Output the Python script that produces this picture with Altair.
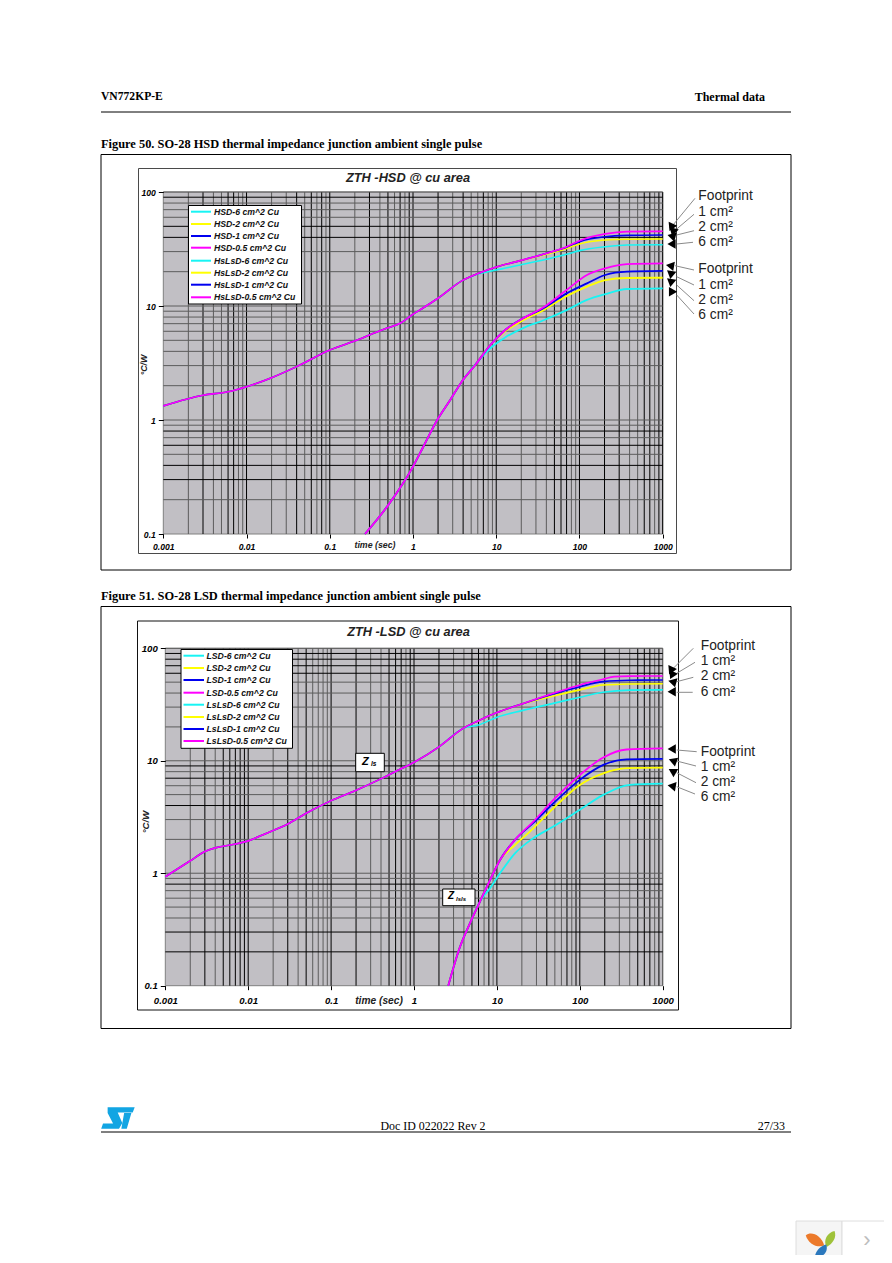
import altair as alt
import pandas as pd

# ---------- curve data ----------
# Figure 50, upper family (HSD)
hsd_t = [0.001, 0.003, 0.006, 0.01, 0.02, 0.04, 0.1, 0.23, 0.3, 0.48, 0.7, 1, 1.2, 2, 3.85]
hsd_z = [1.33, 1.65, 1.77, 1.96, 2.35, 2.94, 4.11, 5.13, 5.57, 6.37, 7.05, 8.46, 9.2, 11.7, 16.6]
hsd6_t = [5.6, 10, 19.4, 40, 70, 100, 204, 372, 1000]
hsd6_z = [18.7, 20.7, 22.9, 25.7, 28.4, 30.6, 33.1, 34.3, 34.5]
hsd2_t = [6.4, 10, 19.4, 40, 70, 100, 204, 372, 1000]
hsd2_z = [19.6, 22, 25, 28.4, 32, 35, 37.9, 38.5, 38.7]
hsd1_t = [6.4, 10, 19.4, 40.5, 70, 100, 204, 372, 1000]
hsd1_z = [19.6, 22, 25, 29, 32.8, 36.7, 40.5, 41.6, 42]
hsd05_t = [6.4, 10, 19.4, 40.5, 70, 100, 204, 372, 1000]
hsd05_z = [19.6, 22, 25, 29, 33.1, 37.4, 42.9, 44.9, 45.2]
# Figure 50, lower family (HsLsD)
hsls_t = [0.265, 0.506, 1, 1.33, 2, 2.8, 3.85]
hsls_z = [0.1, 0.18, 0.39, 0.583, 1.03, 1.5, 2.17]
hsls6_t = [6, 8.5, 12.8, 21, 37, 70, 123, 204, 372, 1000]
hsls6_z = [3.25, 4.26, 5.3, 6.4, 7.5, 9.2, 11.3, 12.7, 14.1, 14.3]
hsls2_t = [5.6, 8.5, 12.8, 21, 37, 70, 123, 204, 372, 1000]
hsls2_z = [3.04, 4.55, 6.0, 7.5, 9.2, 12.2, 14.8, 16.9, 17.6, 17.7]
hsls1_t = [5.6, 8.5, 12.8, 21, 37, 70, 123, 204, 372, 1000]
hsls1_z = [3.04, 4.55, 6.16, 7.8, 9.55, 12.9, 15.8, 18.7, 20, 20.3]
hsls05_t = [5.6, 8.5, 12.8, 21, 37, 70, 123, 204, 372, 1000]
hsls05_z = [3.04, 4.55, 6.16, 7.8, 9.73, 13.8, 18.7, 21.4, 23.3, 23.7]
# Figure 51, upper family (LSD)
lsd_t = [0.001, 0.002, 0.003, 0.004, 0.006, 0.01, 0.0167, 0.03, 0.05, 0.1, 0.204, 0.427, 0.68, 1.03, 2, 3.9]
lsd_z = [0.93, 1.29, 1.56, 1.68, 1.78, 1.94, 2.27, 2.74, 3.41, 4.42, 5.5, 7.08, 8.4, 9.8, 13.3, 19.4]
lsd6_t = [6, 10, 20, 48, 100, 190, 400, 1000]
lsd6_z = [20.8, 24.4, 27.9, 32.4, 36.7, 40.6, 42.5, 42.7]
lsd2_t = [6, 10, 20, 48, 100, 190, 400, 1000]
lsd2_z = [22.7, 26.8, 32, 37.7, 42.7, 47.2, 48.2, 48.4]
lsd1_t = [6, 10, 20, 48, 100, 190, 400, 1000]
lsd1_z = [22.7, 26.8, 32, 39.3, 45.6, 50.5, 52, 52.2]
lsd05_t = [6, 10, 20, 48, 100, 190, 260, 400, 1000]
lsd05_z = [22.7, 26.8, 32, 39.8, 47.2, 53, 56, 56.6, 56.7]
# Figure 51, lower family (LsLsD)
lsls_t = [2.59, 3.6, 4.74, 6.25]
lsls_z = [0.1, 0.223, 0.36, 0.56]
lsls6_t = [8.26, 10.9, 16.5, 27.5, 48, 100, 192, 400, 1000]
lsls6_z = [0.736, 1.0, 1.5, 2.05, 2.6, 3.66, 4.97, 6.1, 6.25]
lsls2_t = [8.26, 10.9, 16.5, 27.5, 48, 100, 192, 367, 1000]
lsls2_z = [0.87, 1.31, 1.78, 2.51, 3.78, 6.1, 7.74, 8.6, 8.69]
lsls1_t = [8.26, 10.9, 16.5, 27.5, 48, 100, 192, 367, 1000]
lsls1_z = [0.87, 1.31, 1.98, 2.8, 4.19, 6.76, 9.18, 10.3, 10.4]
lsls05_t = [8.26, 10.9, 16.5, 27.5, 48, 100, 192, 367, 1000]
lsls05_z = [0.87, 1.31, 1.98, 2.88, 4.48, 7.48, 10.7, 12.6, 12.9]

legend1 = ["HSD-6 cm^2 Cu", "HSD-2 cm^2 Cu", "HSD-1 cm^2 Cu", "HSD-0.5 cm^2 Cu",
           "HsLsD-6 cm^2 Cu", "HsLsD-2 cm^2 Cu", "HsLsD-1 cm^2 Cu", "HsLsD-0.5 cm^2 Cu"]
legend2 = ["LSD-6 cm^2 Cu", "LSD-2 cm^2 Cu", "LSD-1 cm^2 Cu", "LSD-0.5 cm^2 Cu",
           "LsLsD-6 cm^2 Cu", "LsLsD-2 cm^2 Cu", "LsLsD-1 cm^2 Cu", "LsLsD-0.5 cm^2 Cu"]
colors = ["#18f4f4", "#ffff00", "#0000f0", "#ff00ff"]
area_labels = ["Footprint", "1 cm²", "2 cm²", "6 cm²"]
x_ticks = [0.001, 0.01, 0.1, 1, 10, 100, 1000]
y_ticks = [0.1, 1, 10, 100]

# which multiples in each decade are drawn as dark grid lines
v1_dark = [[3, 6, 7, 10], [4, 6, 8, 10], [3, 5, 7, 9, 10], [2, 4, 7, 10], [5, 6, 7, 10], [2, 3, 6, 7, 9, 10]]
h1_dark = [[3, 4, 6, 8], [], [4, 5, 9]]
v2_dark = [[3, 5, 6, 7, 8, 9, 10], [3, 5, 10], [2, 5, 6, 7, 9, 10], [2, 5, 6, 8, 10], [4, 7, 9, 10], [2, 5, 6, 7, 9]]
h2_dark = [[2, 3, 8], [4, 7, 9], [6, 7, 8, 9]]

PAGE_W, PAGE_H = 876, 1247
base = pd.DataFrame({"a": [1]})


def P(v):
    return alt.value(v - 8)


def text(s, x, y, size=9, font="Liberation Sans", weight="normal", style="normal",
         align="left", color="#000000", angle=0):
    return alt.Chart(base).mark_text(
        text=s, fontSize=size, font=font, fontWeight=weight, fontStyle=style,
        align=align, baseline="middle", color=color, angle=angle
    ).encode(x=P(x), y=P(y))


def box(x0, x1, y0, y1, fill="transparent", stroke="#000000", sw=1.0):
    return alt.Chart(base).mark_rect(fill=fill, stroke=stroke, strokeWidth=sw).encode(
        x=P(x0), x2=P(x1), y=P(y0), y2=P(y1))


def seg(x0, y0, x1, y1, color="#000000", sw=1.0):
    return alt.Chart(base).mark_rule(color=color, strokeWidth=sw).encode(
        x=P(x0), y=P(y0), x2=P(x1), y2=P(y1))


def tri(x, y, angle, size=90):
    return alt.Chart(base).mark_point(shape="triangle-up", filled=True, color="#000000",
                                      size=size, angle=angle, opacity=1).encode(x=P(x), y=P(y))


def grid_rows(dark, first_decade, lo, hi):
    rows = []
    for i, d in enumerate(dark):
        step = 10.0 ** (first_decade + i)
        for m in range(2, 11):
            rows.append({"v": m * step, "lo": lo, "hi": hi,
                         "s": "#000000" if m in d else "#5c5c5c", "k": 1 if m in d else 0})
    return pd.DataFrame(sorted(rows, key=lambda r: r["k"]))


def plot_layers(sx, sy, vdark, hdark, x_off, y_off, label_pad, label_size, families):
    out = []
    vt = grid_rows(vdark, -3, 0.1, 100)
    out.append(alt.Chart(vt).mark_rule(strokeWidth=1).encode(
        x=alt.X("v:Q", scale=sx, axis=alt.Axis(
            values=x_ticks, format="~g", orient="bottom", offset=x_off, title=None, grid=False,
            domain=False, tickSize=4, tickColor="#000000", labelPadding=label_pad, labelFontSize=label_size,
            labelFont="Liberation Sans", labelFontStyle="italic", labelFontWeight="bold",
            labelColor="#000000", labelOverlap=False, labelFlush=False, labelBound=False, zindex=1)),
        y=alt.Y("lo:Q", scale=sy, axis=None),
        y2="hi:Q",
        stroke=alt.Stroke("s:N", scale=None)))
    ht = grid_rows(hdark, -1, 0.001, 1000)
    out.append(alt.Chart(ht).mark_rule(strokeWidth=1).encode(
        y=alt.Y("v:Q", scale=sy, axis=alt.Axis(
            values=y_ticks, format="~g", orient="left", offset=y_off, title=None, grid=False,
            domain=False, tickSize=5, tickColor="#000000", labelPadding=3, labelFontSize=label_size,
            labelFont="Liberation Sans", labelFontStyle="italic", labelFontWeight="bold",
            labelColor="#000000", labelOverlap=False, labelFlush=False, labelBound=False, zindex=1)),
        x=alt.X("lo:Q", scale=sx, axis=None),
        x2="hi:Q",
        stroke=alt.Stroke("s:N", scale=None)))
    for common_t, common_z, tails, width in families:
        for (tt, zz), col in zip(tails, colors):
            df = pd.DataFrame({"t": common_t + tt, "z": common_z + zz})
            out.append(alt.Chart(df).mark_line(color=col, strokeWidth=width, clip=True,
                                               interpolate="monotone").encode(
                x=alt.X("t:Q", scale=sx, axis=None, sort=None),
                y=alt.Y("z:Q", scale=sy, axis=None)))
    return out


def legend_layers(x0, x1, y0, y1, names, ys, sw_x0, sw_x1, tx):
    out = [box(x0, x1, y0, y1, fill="#ffffff", stroke="#000000", sw=1)]
    for i, (n, y) in enumerate(zip(names, ys)):
        out.append(seg(sw_x0, y, sw_x1, y, color=colors[i % 4], sw=2))
        out.append(text(n, tx, y, size=8.7, weight="bold", style="italic", color="#111111"))
    return out


sx1 = alt.Scale(type="log", domain=[0.001, 1000], range=[155.3, 654.7], nice=False)
sy1 = alt.Scale(type="log", domain=[0.1, 100], range=[526, 184], nice=False)
sx2 = alt.Scale(type="log", domain=[0.001, 1000], range=[157.3, 654.7], nice=False)
sy2 = alt.Scale(type="log", domain=[0.1, 100], range=[977.7, 640.3], nice=False)

SERIF = "Liberation Serif"
layers = []

st_logo = ("M-0.61 -0.65L1.03 -0.65L0.91 -0.34L0 -0.34L0.28 0.3L0.08 0.65L-1 0.65L-0.89 0.34"
           "L-0.28 0.34L-0.61 -0.3ZM0.39 -0.3L0.83 -0.3L0.55 0.65L0.22 0.65Z")

# page furniture
layers += [
    text("VN772KP-E", 101, 97, size=11.6, font=SERIF, weight="bold"),
    text("Thermal data", 765, 97, size=12, font=SERIF, weight="bold", align="right"),
    seg(101, 112, 791, 112),
    text("Figure 50. SO-28 HSD thermal impedance junction ambient single pulse", 101, 144,
         size=12.4, font=SERIF, weight="bold"),
    box(101, 791, 154.5, 570),
    text("Figure 51. SO-28 LSD thermal impedance junction ambient single pulse", 101, 596,
         size=12.4, font=SERIF, weight="bold"),
    box(101, 791, 606.5, 1028.5),
    seg(101, 1132, 791, 1132),
    text("Doc ID 022022 Rev 2", 433, 1126, size=11.9, font=SERIF, align="center"),
    text("27/33", 785, 1126, size=12, font=SERIF, align="right"),
    alt.Chart(base).mark_point(shape=st_logo, filled=True, color="#12a5e3", size=1089,
                               opacity=1).encode(x=P(117.7), y=P(1118)),
]

# frames and plot backgrounds
layers += [
    box(138.5, 676.5, 168.5, 553.5, stroke="#4a4a4a"),
    box(163.3, 662.7, 192, 534, fill="#c1bfc4", stroke="#808080"),
    box(137.5, 678.5, 621, 1010, stroke="#111111"),
    box(165.3, 662.7, 648.3, 985.7, fill="#c1bfc4", stroke="#808080"),
]

# plots
layers += plot_layers(sx1, sy1, v1_dark, h1_dark, -721, -155.3, 4, 8.6, [
    (hsd_t, hsd_z, [(hsd6_t, hsd6_z), (hsd2_t, hsd2_z), (hsd1_t, hsd1_z), (hsd05_t, hsd05_z)], 1.6),
    (hsls_t, hsls_z, [(hsls6_t, hsls6_z), (hsls2_t, hsls2_z), (hsls1_t, hsls1_z), (hsls05_t, hsls05_z)], 1.8),
])
layers += plot_layers(sx2, sy2, v2_dark, h2_dark, -269.3, -157.3, 6, 9.6, [
    (lsd_t, lsd_z, [(lsd6_t, lsd6_z), (lsd2_t, lsd2_z), (lsd1_t, lsd1_z), (lsd05_t, lsd05_z)], 1.6),
    (lsls_t, lsls_z, [(lsls6_t, lsls6_z), (lsls2_t, lsls2_z), (lsls1_t, lsls1_z), (lsls05_t, lsls05_z)], 1.8),
])

# chart titles and axis titles
layers += [
    text("ZTH -HSD @ cu area", 408, 178, size=12.8, weight="bold", style="italic", align="center", color="#222222"),
    text("ZTH -LSD @ cu area", 408.5, 632, size=12.8, weight="bold", style="italic", align="center", color="#222222"),
    text("time (sec)", 375, 545, size=8.8, weight="bold", style="italic", align="center", color="#222222"),
    text("time (sec)", 379, 1000.7, size=10.2, weight="bold", style="italic", align="center", color="#222222"),
    text("°C/W", 144, 365, size=8.8, weight="bold", style="italic", align="center", color="#222222", angle=270),
    text("°C/W", 146, 822, size=9.6, weight="bold", style="italic", align="center", color="#222222", angle=270),
]

# legends
layers += legend_layers(188.5, 301.5, 205.5, 304, legend1,
                        [211.7, 224, 236, 247.7, 260.7, 272.7, 284.7, 297.3], 191, 211, 214)
layers += legend_layers(181, 292.5, 649.5, 748.3, legend2,
                        [655.7, 668, 680, 692.7, 704.7, 717, 729, 741], 183.5, 204, 206.5)

# Z boxes
layers += [
    box(355.7, 384.3, 753.3, 771.7, fill="#ffffff"),
    text("Z", 362, 762, size=11, weight="bold", style="italic"),
    text("ls", 371, 764, size=6.5, weight="bold", style="italic"),
    box(442.7, 475, 889, 905.7, fill="#ffffff"),
    text("Z", 448, 896, size=10, weight="bold", style="italic"),
    text("lsls", 456, 899, size=6, weight="bold", style="italic"),
]

# area annotations: leaders, arrows, labels
LEAD = "#8a8a8a"
leaders = [
    (695, 198.3, 673, 225), (694, 214.3, 676.7, 229), (694, 230.7, 676.7, 235), (693, 242.3, 676.7, 244),
    (694, 270, 675, 265.7), (694, 285, 676.7, 276.7), (694, 300.7, 676.7, 285), (694, 314, 676.7, 295),
    (693.3, 648.3, 673.3, 668.3), (695, 662.3, 676.7, 673.3), (693.3, 677.3, 676.7, 681.7), (692.7, 692.3, 676.7, 692.3),
    (696.7, 751.7, 676.7, 750), (696, 766, 676.7, 761), (696, 782.7, 676.7, 772.7), (695, 794, 676.7, 786.7),
]
layers += [seg(*l, color=LEAD) for l in leaders]
arrows = [
    (671, 225, 325), (672.5, 230, 315), (671.5, 236, 285), (671.5, 244, 270),
    (670, 265.7, 280), (671, 275, 190), (671, 283, 190), (671, 293, 210),
    (670.7, 668.3, 325), (671.7, 673, 325), (672.3, 681.7, 285), (671.7, 691.7, 270),
    (671.7, 749, 270), (672.7, 760.7, 290), (672.3, 771, 300), (671.7, 786, 280),
]
layers += [tri(*a) for a in arrows]
label_pos = [(698.3, [196, 211.7, 226.7, 242.3]), (698.3, [269.3, 285, 299.7, 314.7]),
             (700.7, [645.7, 661, 676, 691.7]), (700.7, [752.3, 767, 782.3, 797.3])]
for lx, ys in label_pos:
    for lab, ly in zip(area_labels, ys):
        layers.append(text(lab, lx, ly, size=13.8, color="#222222"))

# bottom-right widget
layers += [
    box(796, 842, 1221, 1261, fill="#f5f5f5", stroke="#dedede"),
    box(842, 892, 1221, 1261, fill="#ffffff", stroke="#dedede"),
    text("›", 867, 1240, size=22, color="#bdbdbd", align="center"),
    alt.Chart(base).mark_point(shape="M-1 -0.5C-0.4 -1 0.7 -0.5 1 0.6C0.2 0.9 -0.7 0.4 -1 -0.5Z", filled=True,
                               color="#ec7a2b", size=340, opacity=1).encode(x=P(815), y=P(1240)),
    alt.Chart(base).mark_point(shape="M0.7 -1C1 -0.2 0.5 0.6 -0.3 1C-0.8 0.2 -0.2 -0.8 0.7 -1Z", filled=True,
                               color="#9fc23a", size=250, opacity=1).encode(x=P(829), y=P(1239)),
    alt.Chart(base).mark_point(shape="M0.7 -1C1 -0.2 0.5 0.6 -0.8 1C-1 0.2 -0.2 -0.8 0.7 -1Z", filled=True,
                               color="#2b78bd", size=220, opacity=1).encode(x=P(821), y=P(1252)),
]

chart = alt.layer(*layers).resolve_scale(x="independent", y="independent", stroke="independent").properties(
    width=PAGE_W, height=PAGE_H, padding=0, autosize=alt.AutoSizeParams(type="none"),
    background="#ffffff"
).configure_view(stroke=None)

chart.save("out.html", embed_options={"renderer": "svg", "actions": False})
